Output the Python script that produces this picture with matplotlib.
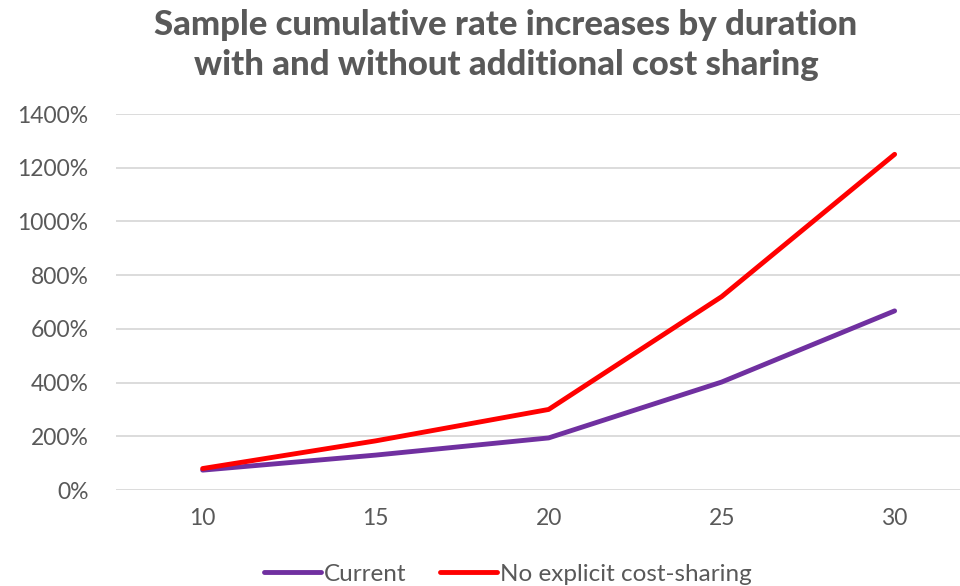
import matplotlib.pyplot as plt
from matplotlib.ticker import FuncFormatter

durations = ["10", "15", "20", "25", "30"]
current = [74, 130, 194, 402, 667]
no_cost_sharing = [80, 183, 300, 720, 1250]

plt.rcParams['font.family'] = ['Lato', 'DejaVu Sans']

fig = plt.figure(figsize=(9.6, 5.86), dpi=100)
# plot area runs a little past the right edge of the figure
ax = fig.add_axes([0.121, 0.1638, 0.901, 0.6416])

x = list(range(len(durations)))
ax.plot(x, current, color='#7030A0', lw=3.5, solid_capstyle='round', label='Current')
ax.plot(x, no_cost_sharing, color='#FF0000', lw=3.5, solid_capstyle='round',
        label='No explicit cost-sharing')

ax.set_xlim(-0.5, len(durations) - 0.5)
ax.set_ylim(0, 1400)
ax.set_yticks(range(0, 1401, 200))
ax.yaxis.set_major_formatter(FuncFormatter(lambda v, p: f"{int(v)}%"))
ax.set_xticks(x)
ax.set_xticklabels(durations)

ax.grid(axis='y', color='#D9D9D9', lw=1.3)
ax.set_axisbelow(True)
for s in ax.spines.values():
    s.set_visible(False)
ax.tick_params(length=0, labelsize=16.5, labelcolor='#595959')
ax.tick_params(axis='y', pad=20)
ax.tick_params(axis='x', pad=13)

fig.suptitle("Sample cumulative rate increases by duration\nwith and without additional cost sharing",
             x=0.527, y=0.985, fontsize=25, fontweight='black', color='#595959', linespacing=1.3)

leg = fig.legend(loc='lower center', bbox_to_anchor=(0.529, -0.035), ncol=2, frameon=False,
                 fontsize=17.5, handlelength=2.35, handletextpad=0.12, columnspacing=1.4)
for t in leg.get_texts():
    t.set_color('#595959')

fig.savefig('out.png', dpi=100)
